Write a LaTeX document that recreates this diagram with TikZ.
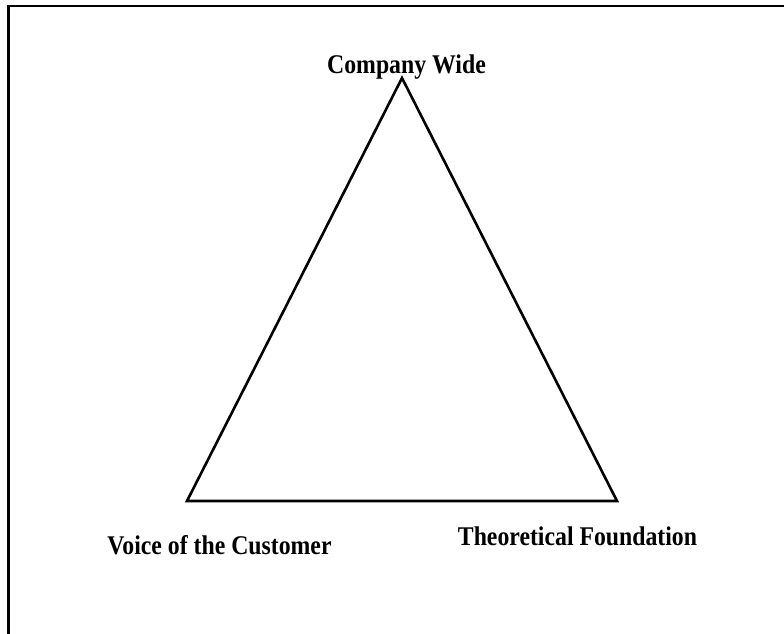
\documentclass[tikz,border=0pt]{standalone}
\usepackage{fontspec}
\setmainfont{Liberation Serif}
\newcommand{\sqz}[1]{\scalebox{0.88}[1]{#1}}
\begin{document}
\begin{tikzpicture}[x=1pt,y=1pt,
  lbl/.style={font=\bfseries\fontsize{27}{30}\selectfont, anchor=base, inner sep=0pt},
  frame/.style={line width=2.2pt, line cap=rect},
  tri/.style={line width=2.6pt, line join=miter}]
\useasboundingbox (0,0) rectangle (784,633);
% frame (top and left only)
\coordinate (fTR) at (784,627);
\coordinate (fTL) at (8.5,627);
\coordinate (fBL) at (8.5,0);
\draw[frame] (fTR) -- (fTL) -- (fBL);
% triangle
\coordinate (apex) at (402,555);
\coordinate (bl) at (187,132);
\coordinate (br) at (617,132);
\draw[tri] (apex) -- (bl) -- (br) -- cycle;
% labels
\node[lbl] (cw) at (406.5,559.5) {\sqz{Company Wide}};
\node[lbl] (vc) at (219.5,79) {\sqz{Voice of the Customer}};
\node[lbl] (tf) at (577.5,88) {\sqz{Theoretical Foundation}};
\end{tikzpicture}
\end{document}
